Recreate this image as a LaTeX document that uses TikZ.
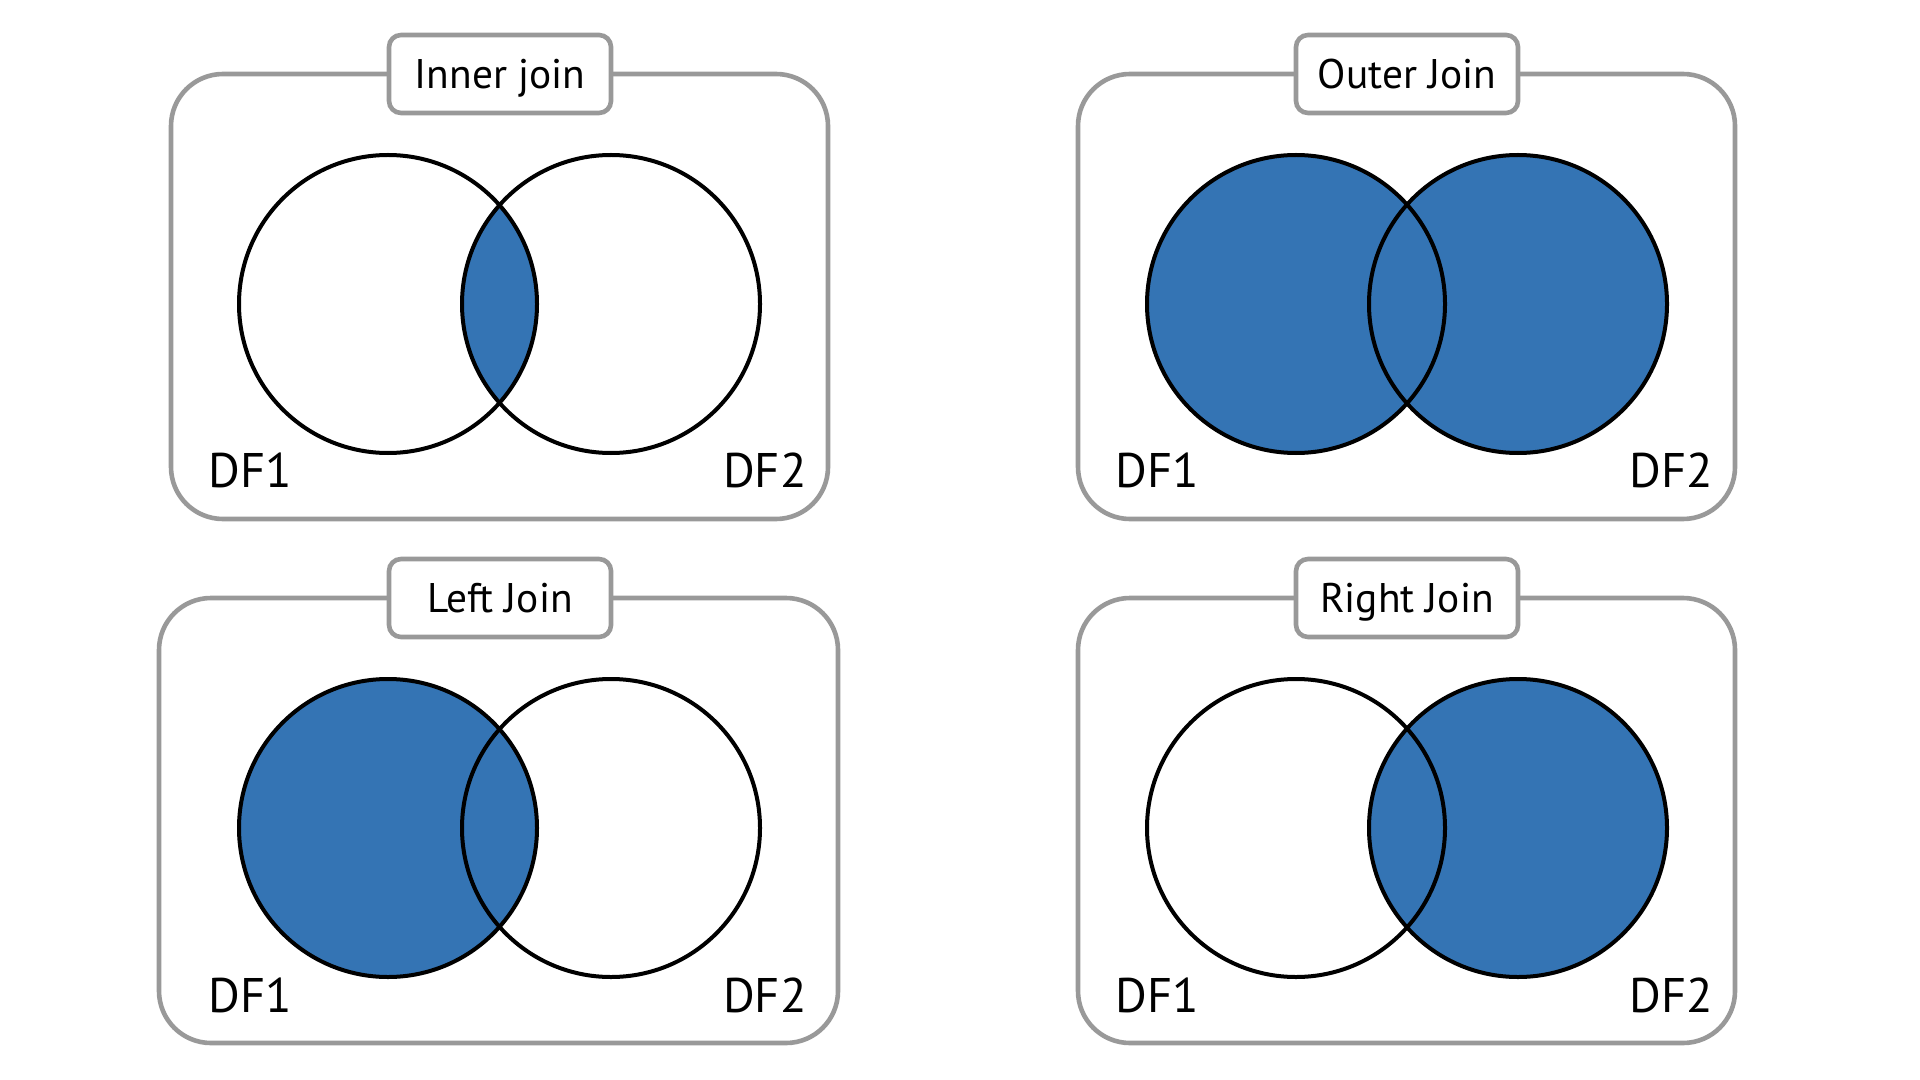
\documentclass[tikz,border=0pt]{standalone}
\usepackage{fontspec}
\setmainfont{PT Sans}
\definecolor{framegray}{RGB}{153,153,153}
\definecolor{joinblue}{RGB}{52,116,180}

\begin{document}
\begin{tikzpicture}[x = 0.5pt, y = -0.5pt]
\tikzstyle{framebox} = [draw = framegray, line width = 2.3pt, rounded corners = 26pt]
\tikzstyle{joinlabel} = [draw = framegray, line width = 2.3pt, fill = white, rounded corners = 6pt, minimum width = 111pt, minimum height = 39pt, text height = 14.5pt, text depth = 0pt, font = \fontsize{20.7}{24}\selectfont]
\tikzstyle{setline} = [draw = black, line width = 2pt]
\tikzstyle{dflabel} = [inner sep = 0pt, font = \fontsize{24.3}{28}\selectfont]

\useasboundingbox (0, 0) rectangle (1920, 1080);

% inner join
\draw[framebox] (171, 74) rectangle (828, 519);
\begin{scope}
\clip (388, 304) circle (149);
\fill[joinblue] (611, 304) circle (149);
\end{scope}
\draw[setline] (388, 304) circle (149);
\draw[setline] (611, 304) circle (149);
\node[joinlabel] (inner) at (500, 74) {Inner join};
\node[dflabel, anchor = base west] (inner1) at (208, 487) {DF1};
\node[dflabel, anchor = base east] (inner2) at (807, 487) {DF2};

% outer join
\draw[framebox] (1078, 74) rectangle (1735, 519);
\fill[joinblue] (1296, 304) circle (149);
\fill[joinblue] (1518, 304) circle (149);
\draw[setline] (1296, 304) circle (149);
\draw[setline] (1518, 304) circle (149);
\node[joinlabel] (outer) at (1407, 74) {Outer Join};
\node[dflabel, anchor = base west] (outer1) at (1115, 487) {DF1};
\node[dflabel, anchor = base east] (outer2) at (1713, 487) {DF2};

% left join
\draw[framebox] (159, 598) rectangle (838, 1043);
\fill[joinblue] (388, 828) circle (149);
\draw[setline] (388, 828) circle (149);
\draw[setline] (611, 828) circle (149);
\node[joinlabel] (left) at (500, 598) {Left Join};
\node[dflabel, anchor = base west] (left1) at (208, 1012) {DF1};
\node[dflabel, anchor = base east] (left2) at (807, 1012) {DF2};

% right join
\draw[framebox] (1078, 598) rectangle (1735, 1043);
\fill[joinblue] (1518, 828) circle (149);
\draw[setline] (1296, 828) circle (149);
\draw[setline] (1518, 828) circle (149);
\node[joinlabel] (right) at (1407, 598) {Right Join};
\node[dflabel, anchor = base west] (right1) at (1115, 1012) {DF1};
\node[dflabel, anchor = base east] (right2) at (1713, 1012) {DF2};
\end{tikzpicture}
\end{document}
